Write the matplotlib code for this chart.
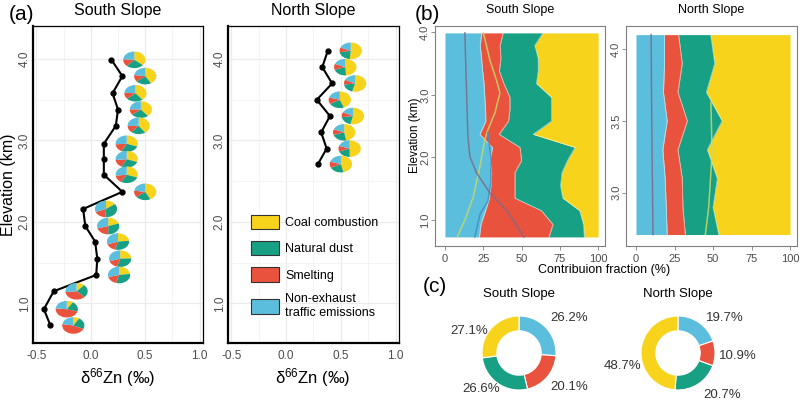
import numpy as np
import matplotlib.pyplot as plt
from matplotlib.patches import Wedge, Patch

plt.rcParams['font.family'] = ['Liberation Sans', 'DejaVu Sans']
plt.rcParams['mathtext.default'] = 'regular'

W, H = 800, 401

# colours of the four sources
c_coal = '#F8D31B'
c_dust = '#17A083'
c_smelt = '#E9533D'
c_traffic = '#5BBEDC'
legend_labels = ['Coal combustion', 'Natural dust', 'Smelting', 'Non-exhaust\ntraffic emissions']

# south slope samples: elevation (km), d66Zn, source shares (%)
s_elev = [3.99, 3.79, 3.58, 3.38, 3.18, 2.96, 2.77, 2.58, 2.37, 2.16, 1.95, 1.76, 1.55, 1.35, 1.15, 0.93, 0.73]
s_d66 = [0.19, 0.29, 0.20, 0.25, 0.23, 0.12, 0.12, 0.12, 0.29, -0.07, -0.05, 0.04, 0.06, 0.05, -0.34, -0.43, -0.37]
s_traffic = [24.0, 23.0, 23.9, 24.6, 25.5, 26.0, 26.5, 26.7, 22.8, 31.0, 29.5, 30.5, 30.0, 29.0, 26.5, 23.5, 22.5]
s_smelt = [14.0, 13.0, 12.6, 10.9, 13.0, 16.4, 15.9, 14.8, 12.6, 18.0, 20.5, 15.2, 15.7, 16.7, 36.5, 47.0, 45.5]
s_dust = [26.0, 22.7, 24.4, 25.4, 21.3, 27.2, 27.2, 28.1, 22.2, 36.0, 30.0, 30.8, 29.8, 31.3, 25.0, 20.0, 23.0]
s_coal = [36.0, 41.3, 39.1, 39.1, 40.2, 30.4, 30.4, 30.4, 42.4, 15.0, 20.0, 23.5, 24.5, 23.0, 12.0, 9.5, 9.0]

# north slope samples
n_elev = [4.10, 3.90, 3.70, 3.50, 3.30, 3.10, 2.90, 2.71]
n_d66 = [0.38, 0.33, 0.42, 0.28, 0.40, 0.32, 0.37, 0.29]
n_traffic = [18.5, 18.5, 17.8, 20.2, 17.4, 18.9, 19.6, 20.2]
n_smelt = [9.1, 11.5, 9.4, 13.1, 9.8, 11.1, 10.8, 11.8]
n_dust = [20.9, 21.1, 18.5, 22.6, 19.1, 22.8, 19.6, 21.7]
n_coal = [51.5, 48.9, 54.3, 44.1, 53.7, 47.2, 50.0, 46.3]

# smoothed trend lines in panel (b)
s_purple_elev = [3.99, 3.12, 2.33, 2.01, 1.75, 1.43, 1.16, 0.73]
s_purple_pct = [13.0, 14.0, 15.0, 16.3, 20.7, 29.4, 40.2, 51.5]
s_green_elev = [3.99, 3.90, 3.55, 3.23, 3.03, 2.71, 2.44, 2.28, 1.85, 1.37, 1.00, 0.73]
s_green_pct = [25.0, 26.0, 29.4, 33.7, 35.9, 32.6, 28.0, 26.0, 22.8, 18.5, 13.0, 8.0]
s_blue_elev = [2.40, 2.00, 1.60, 1.30, 1.10, 0.73]
s_blue_pct = [28.0, 30.0, 30.0, 28.0, 23.0, 19.5]
n_purple_elev = [4.10, 3.50, 2.71]
n_purple_pct = [9.8, 10.2, 11.0]
n_green_elev = [3.63, 3.28, 2.90, 2.71]
n_green_pct = [48.6, 49.4, 47.2, 45.0]

# panel (c) overall contributions: traffic, smelting, dust, coal
s_total = [26.2, 20.1, 26.6, 27.1]
n_total = [19.7, 10.9, 20.7, 48.7]


def box(l, t, r, b):
    return [l / W, 1 - b / H, (r - l) / W, (b - t) / H]


fig = plt.figure(figsize=(8, 4.01), dpi=100)


def panel_a(ax, elev, d66, parts, title, xlab_x):
    ax.set_xlim(-0.53, 1.03)
    ax.set_ylim(0.515, 4.405)
    ax.set_xticks([-0.5, 0.0, 0.5, 1.0])
    ax.set_xticklabels(['-0.5', '0.0', '0.5', '1.0'])
    ax.set_yticks([1.0, 2.0, 3.0, 4.0])
    ax.set_yticklabels(['1.0', '2.0', '3.0', '4.0'], rotation=90, va='center')
    ax.set_xticks([-0.25, 0.25, 0.75], minor=True)
    ax.set_yticks([1.5, 2.5, 3.5], minor=True)
    ax.grid(True, which='major', color='#ebebeb', lw=0.9)
    ax.grid(True, which='minor', color='#f3f3f3', lw=0.6)
    ax.set_axisbelow(True)
    ax.tick_params(which='both', length=0, labelsize=8.5, labelcolor='#4d4d4d')
    ax.tick_params(axis='x', pad=5)
    ax.tick_params(axis='y', pad=1.5)
    for side in ['left', 'bottom']:
        ax.spines[side].set_linewidth(1.6)
    for side in ['top', 'right']:
        ax.spines[side].set_linewidth(0.9)
    ax.plot(d66, elev, color='black', lw=1.5, marker='o', ms=3.5, zorder=2)
    cols = [c_coal, c_dust, c_smelt, c_traffic]
    for i in range(len(elev)):
        fr = [p[i] for p in parts]
        tot = sum(fr)
        start = 90.0
        for f, c in zip(fr, cols):
            ang = 360.0 * f / tot
            ax.add_patch(Wedge((d66[i] + 0.21, elev[i]), 0.102, start - ang, start,
                               facecolor=c, edgecolor='none', zorder=3))
            start -= ang
    fig.text(xlab_x / W, 1 - 10 / H, title, ha='center', va='center', fontsize=11.5)
    fig.text(xlab_x / W, 1 - 378 / H, r'$\delta^{66}$Zn (‰)', ha='center', va='center', fontsize=12)


ax1 = fig.add_axes(box(33, 26, 203, 343))
panel_a(ax1, s_elev, s_d66, [s_coal, s_dust, s_smelt, s_traffic], 'South Slope', 118)
ax2 = fig.add_axes(box(228, 26, 399, 343))
panel_a(ax2, n_elev, n_d66, [n_coal, n_dust, n_smelt, n_traffic], 'North Slope', 313)

handles = [Patch(facecolor=c, edgecolor='#333333', lw=0.8) for c in [c_coal, c_dust, c_smelt, c_traffic]]
ax2.legend(handles, legend_labels, loc='upper left', bbox_to_anchor=(0.1, 0.425), frameon=False,
           fontsize=9, handlelength=2.2, handleheight=1.4, labelspacing=0.95, borderpad=0,
           handletextpad=0.5)

fig.text(9 / W, 1 - 185 / H, 'Elevation (km)', rotation=90, ha='center', va='center', fontsize=11.5)
fig.text(22 / W, 1 - 14 / H, '(a)', ha='center', va='center', fontsize=15)


def panel_b(ax, elev, traffic, smelt, dust, title, yt, ylim, lines):
    e = np.array(elev)
    b1 = np.array(traffic)
    b2 = b1 + np.array(smelt)
    b3 = b2 + np.array(dust)
    ax.fill_betweenx(e, 0, b1, color=c_traffic, lw=0)
    ax.fill_betweenx(e, b1, b2, color=c_smelt, lw=0)
    ax.fill_betweenx(e, b2, b3, color=c_dust, lw=0)
    ax.fill_betweenx(e, b3, 100, color=c_coal, lw=0)
    for b in [b1, b2, b3]:
        ax.plot(b, e, color='white', lw=0.6, alpha=0.55)
    for xs, ys, c in lines:
        ax.plot(xs, ys, color=c, lw=1.1, alpha=0.85)
    ax.set_xlim(-6.5, 104.5)
    ax.set_ylim(*ylim)
    ax.set_xticks([0, 25, 50, 75, 100])
    ax.set_yticks(yt)
    ax.set_yticklabels([f'{v:.1f}' for v in yt], rotation=90, va='center')
    ax.tick_params(length=3, width=0.6, color='#7f7f7f', labelsize=8, labelcolor='#4d4d4d')
    ax.tick_params(axis='x', pad=3)
    ax.tick_params(axis='y', pad=0.5)
    for s in ax.spines.values():
        s.set_color('#7f7f7f')
        s.set_linewidth(0.8)
    ax.set_title(title, fontsize=9, pad=9)


ax3 = fig.add_axes(box(435, 26, 605, 246))
panel_b(ax3, s_elev, s_traffic, s_smelt, s_dust, 'South Slope', [1.0, 2.0, 3.0, 4.0], (0.585, 4.1),
        [(s_green_pct, s_green_elev, '#c7d96a'), (s_blue_pct, s_blue_elev, '#3f8fc4'),
         (s_purple_pct, s_purple_elev, '#7c6a88')])
fig.text(415 / W, 1 - 135 / H, 'Elevation (km)', rotation=90, ha='center', va='center', fontsize=8.5)
ax4 = fig.add_axes(box(626, 26, 797, 246))
panel_b(ax4, n_elev, n_traffic, n_smelt, n_dust, 'North Slope', [3.0, 3.5, 4.0], (2.63, 4.16),
        [(n_green_pct, n_green_elev, '#c7d96a'), (n_purple_pct, n_purple_elev, '#7c6a88')])
fig.text(604 / W, 1 - 270 / H, 'Contribuion fraction (%)', ha='center', va='center', fontsize=9)
fig.text(427 / W, 1 - 14 / H, '(b)', ha='center', va='center', fontsize=15)


def donut(cx, cy, vals, title, label_pos):
    r = 37
    ax = fig.add_axes(box(cx - r, cy - r, cx + r, cy + r))
    ax.pie(vals, colors=[c_traffic, c_smelt, c_dust, c_coal], radius=1, startangle=90,
           counterclock=False, wedgeprops=dict(width=0.4, edgecolor='white', lw=0.8))
    ax.set_xlim(-1, 1)
    ax.set_ylim(-1, 1)
    for v, (dx, dy) in zip(vals, label_pos):
        ax.text(dx, dy, f'{v:.1f}%', ha='center', va='center', fontsize=9.5, color='#333333')
    ax.text(0, 1.6, title, ha='center', va='center', fontsize=9.5)


donut(519, 353, s_total, 'South Slope', [(1.35, 0.95), (1.35, -0.92), (-1.03, -0.97), (-1.35, 0.6)])
donut(678, 353, n_total, 'North Slope', [(1.27, 0.95), (1.62, -0.08), (1.19, -1.14), (-1.49, -0.35)])
fig.text(435 / W, 1 - 287 / H, '(c)', ha='center', va='center', fontsize=15)

fig.savefig('out.png', dpi=100)
